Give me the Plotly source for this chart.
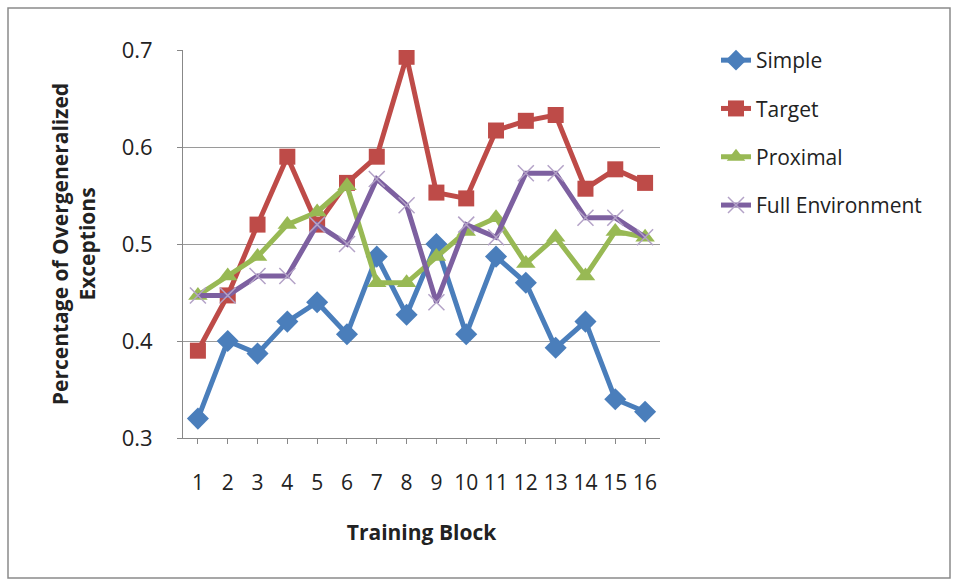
import plotly.graph_objects as go

blocks = list(range(1, 17))
simple = [0.320, 0.400, 0.387, 0.420, 0.440, 0.407, 0.487, 0.427, 0.500, 0.407, 0.487, 0.460, 0.393, 0.420, 0.340, 0.327]
target = [0.390, 0.447, 0.520, 0.590, 0.520, 0.563, 0.590, 0.693, 0.553, 0.547, 0.617, 0.627, 0.633, 0.557, 0.577, 0.563]
proximal = [0.447, 0.467, 0.487, 0.520, 0.533, 0.560, 0.460, 0.460, 0.487, 0.513, 0.527, 0.480, 0.507, 0.467, 0.513, 0.507]
full_env = [0.447, 0.447, 0.467, 0.467, 0.520, 0.500, 0.567, 0.540, 0.440, 0.520, 0.507, 0.573, 0.573, 0.527, 0.527, 0.507]
y_ticks = [0.3, 0.4, 0.5, 0.6, 0.7]

series = [
    ("Simple", simple, "#4A7EBB", dict(symbol="diamond", size=17, color="#4A7EBB")),
    ("Target", target, "#BE4B48", dict(symbol="square", size=16, color="#BE4B48")),
    ("Proximal", proximal, "#98B954", dict(symbol="triangle-up", size=17, color="#98B954")),
    ("Full Environment", full_env, "#7D60A0", dict(symbol="x-thin", size=16, line=dict(color="#B3A2C7", width=1.5), color="#B3A2C7")),
]

FONT = "'Open Sans', sans-serif"
fig = go.Figure()
for i, (name, vals, col, mk) in enumerate(series):
    fig.add_trace(go.Scatter(x=blocks, y=vals, name=name, mode="lines+markers",
                             line=dict(color=col, width=5), marker=mk, legendgroup=str(i)))

L, R, T, B = 183, 299, 50, 143
pw, ph = 959 - L - R, 581 - T - B

fig.update_layout(
    width=959, height=581,
    margin=dict(l=L, r=R, t=T, b=B),
    paper_bgcolor="white", plot_bgcolor="white",
    font=dict(family=FONT, size=18, color="#222"),
    showlegend=True,
    legend=dict(x=(716 - L) / pw, y=(ph + 10) / ph, xanchor="left", yanchor="top",
                font=dict(size=21, family=FONT, color="#222"), tracegroupgap=18,
                bgcolor="rgba(0,0,0,0)"),
    xaxis=dict(range=[0.5, 16.5], tickmode="array", tickvals=blocks,
               ticktext=[str(b) for b in blocks], showgrid=False, zeroline=False,
               showline=True, linecolor="#888", linewidth=1, ticks="outside",
               ticklen=5, tickcolor="#888", ticklabelstandoff=21,
               tickfont=dict(size=21, family=FONT),
               title=dict(text="<b>Training Block</b>", font=dict(size=21, family=FONT), standoff=30)),
    yaxis=dict(range=[0.3, 0.7], tickmode="array", tickvals=y_ticks,
               ticktext=["0.3", "0.4", "0.5", "0.6", "0.7"], showgrid=True,
               gridcolor="#9a9a9a", gridwidth=1, zeroline=False, showline=True,
               linecolor="#888", linewidth=1, ticks="outside", ticklen=5, tickcolor="#888",
               ticklabelstandoff=20,
               tickfont=dict(size=22, family=FONT),
               title=dict(text="<b>Percentage of Overgeneralized<br>Exceptions</b>",
                          font=dict(size=21, family=FONT), standoff=20)),
)

fig.add_shape(type="rect", xref="paper", yref="paper",
              x0=(8 - L) / pw, x1=(950 - L) / pw, y0=(ph + T - 578) / ph, y1=(ph + T - 8) / ph,
              line=dict(color="#8a8a8a", width=1.5), fillcolor="rgba(0,0,0,0)", layer="below")

fig.write_html("out.html", config={"displayModeBar": False},
               post_script="document.body.style.margin='0';")
